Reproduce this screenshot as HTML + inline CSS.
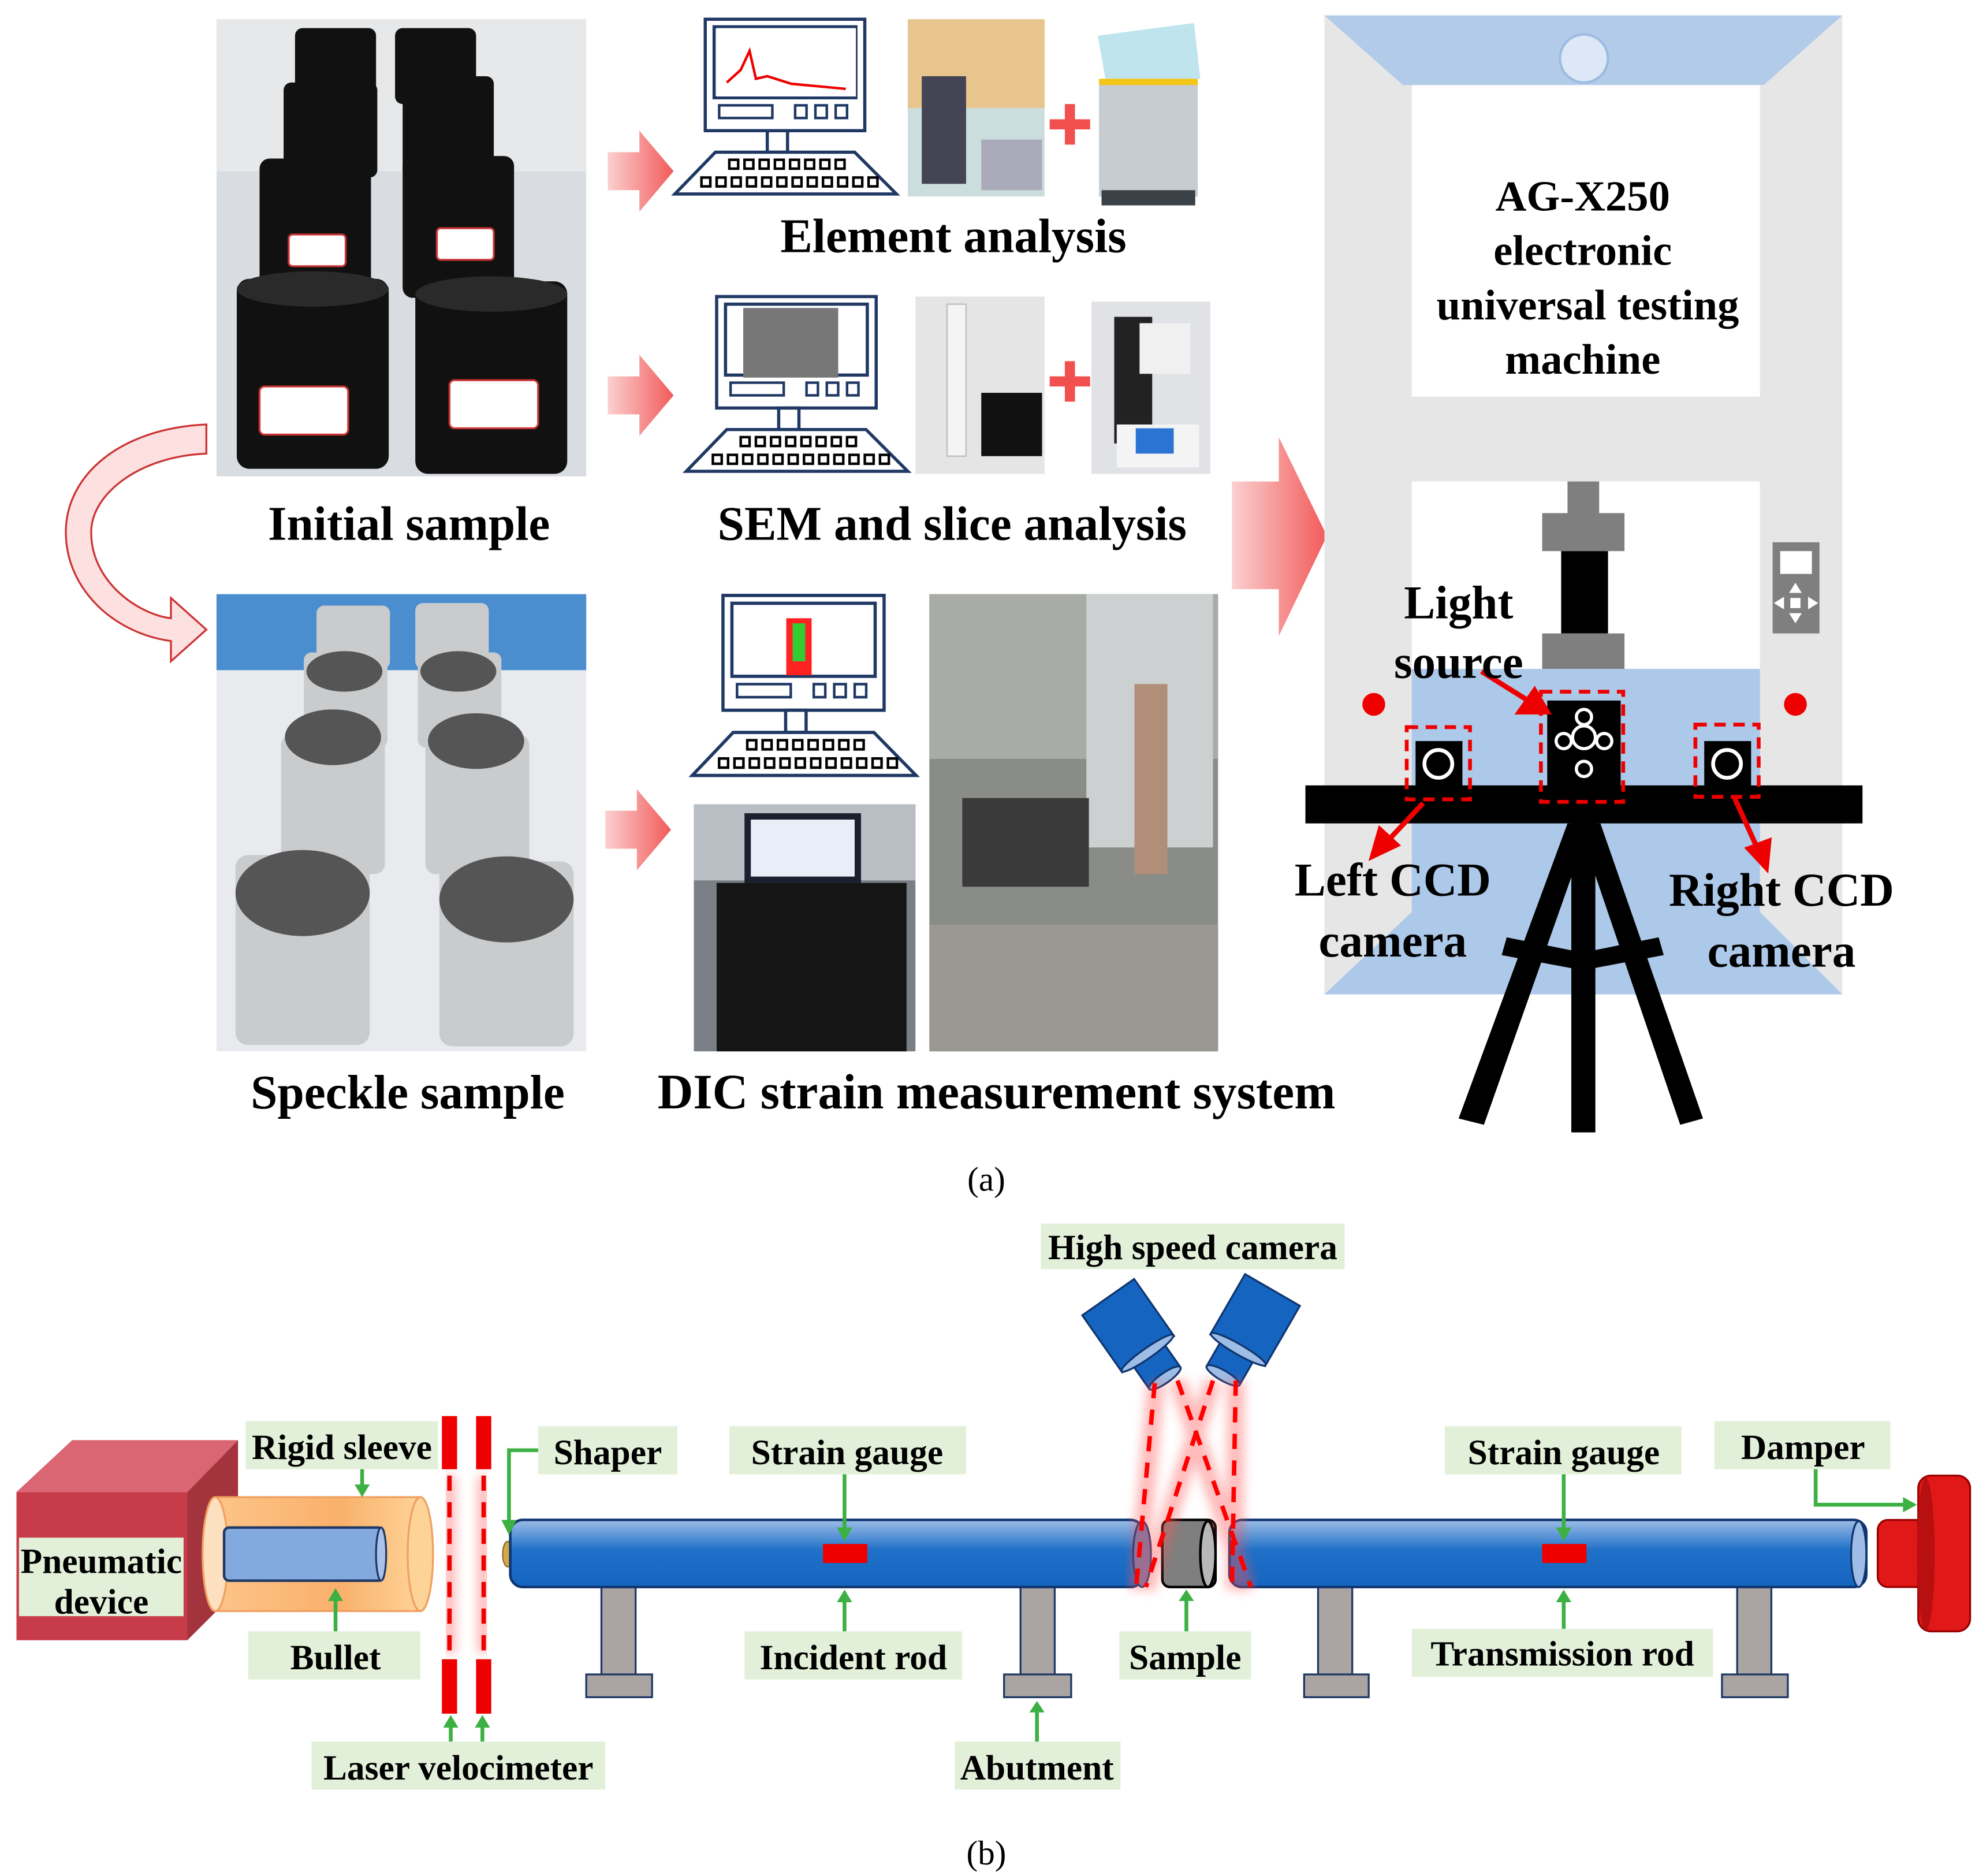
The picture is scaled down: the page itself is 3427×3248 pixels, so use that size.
<!DOCTYPE html>
<html><head><meta charset="utf-8"><style>
html,body{margin:0;padding:0;background:#fff}
svg{display:block}
text{font-family:"Liberation Serif",serif;font-weight:bold;fill:#000}
</style></head><body>
<svg width="3427" height="3248" viewBox="0 0 1563 1481" xmlns="http://www.w3.org/2000/svg">
<defs>
<linearGradient id="pk" x1="0" x2="1"><stop offset="0" stop-color="#fbd0d0"/><stop offset="1" stop-color="#f25a5a"/></linearGradient>
<linearGradient id="rod" x1="0" y1="0" x2="0" y2="1"><stop offset="0" stop-color="#9dbde6"/><stop offset="0.45" stop-color="#1f70c8"/><stop offset="1" stop-color="#1565c0"/></linearGradient>
<linearGradient id="sl" x1="0" x2="1"><stop offset="0" stop-color="#fdc48a"/><stop offset="0.6" stop-color="#f9b06a"/><stop offset="1" stop-color="#fed397"/></linearGradient>
<filter id="gl"><feGaussianBlur stdDeviation="4"/></filter>
<g id="comp">
 <rect x="0" y="0" width="126" height="88" fill="#fff" stroke="#1f3864" stroke-width="2.5"/>
 <rect x="7" y="6" width="112" height="56" fill="#fff" stroke="#1f3864" stroke-width="2.5"/>
 <rect x="11" y="68" width="42" height="10" fill="none" stroke="#1f3864" stroke-width="2"/>
 <rect x="71" y="68" width="9" height="10" fill="none" stroke="#1f3864" stroke-width="2"/>
 <rect x="87" y="68" width="9" height="10" fill="none" stroke="#1f3864" stroke-width="2"/>
 <rect x="103" y="68" width="9" height="10" fill="none" stroke="#1f3864" stroke-width="2"/>
 <rect x="49" y="88" width="16" height="17" fill="none" stroke="#1f3864" stroke-width="2.5"/>
 <polygon points="8,105 118,105 151,138 -24,138" fill="#fff" stroke="#1f3864" stroke-width="2.5"/>
 <g fill="none" stroke="#000" stroke-width="2">
  <rect x="19" y="111" width="7" height="7"/><rect x="31" y="111" width="7" height="7"/><rect x="43" y="111" width="7" height="7"/><rect x="55" y="111" width="7" height="7"/><rect x="67" y="111" width="7" height="7"/><rect x="79" y="111" width="7" height="7"/><rect x="91" y="111" width="7" height="7"/><rect x="103" y="111" width="7" height="7"/>
  <rect x="-3" y="125" width="7" height="7"/><rect x="9" y="125" width="7" height="7"/><rect x="21" y="125" width="7" height="7"/><rect x="33" y="125" width="7" height="7"/><rect x="45" y="125" width="7" height="7"/><rect x="57" y="125" width="7" height="7"/><rect x="69" y="125" width="7" height="7"/><rect x="81" y="125" width="7" height="7"/><rect x="93" y="125" width="7" height="7"/><rect x="105" y="125" width="7" height="7"/><rect x="117" y="125" width="7" height="7"/><rect x="129" y="125" width="7" height="7"/>
 </g>
</g>
</defs>

<!-- Initial sample photo -->
<rect x="171" y="15" width="292" height="361" fill="#d9dde2"/>
<rect x="171" y="15" width="292" height="120" fill="#e6e8ea"/>
<g fill="#111">
<rect x="233" y="22" width="64" height="60" rx="6"/><rect x="312" y="22" width="64" height="60" rx="6"/>
<rect x="224" y="65" width="74" height="75" rx="6"/><rect x="318" y="60" width="72" height="80" rx="6"/>
<rect x="205" y="125" width="88" height="105" rx="8"/><rect x="318" y="123" width="88" height="112" rx="8"/>
<rect x="187" y="220" width="120" height="150" rx="10"/><rect x="328" y="222" width="120" height="152" rx="10"/>
</g>
<g fill="#2a2a2a"><ellipse cx="247" cy="228" rx="60" ry="14"/><ellipse cx="388" cy="232" rx="60" ry="14"/></g>
<g fill="#fff" stroke="#c33" stroke-width="1.5"><rect x="205" y="305" width="70" height="38" rx="4"/><rect x="355" y="300" width="70" height="38" rx="4"/><rect x="228" y="185" width="45" height="25" rx="3"/><rect x="345" y="180" width="45" height="25" rx="3"/></g>

<!-- Speckle photo -->
<rect x="171" y="469" width="292" height="361" fill="#e8eaee"/>
<rect x="171" y="469" width="292" height="60" fill="#4a8ed0"/>
<g fill="#c9cbcd">
<rect x="250" y="478" width="58" height="50" rx="6"/><rect x="328" y="476" width="58" height="52" rx="6"/>
<rect x="240" y="515" width="66" height="75" rx="6"/><rect x="330" y="515" width="66" height="75" rx="6"/>
<rect x="222" y="580" width="82" height="110" rx="8"/><rect x="336" y="580" width="82" height="110" rx="8"/>
<rect x="186" y="675" width="106" height="150" rx="10"/><rect x="347" y="680" width="106" height="146" rx="10"/>
</g>
<g fill="#555"><ellipse cx="263" cy="582" rx="38" ry="22"/><ellipse cx="376" cy="585" rx="38" ry="22"/><ellipse cx="239" cy="705" rx="53" ry="34"/><ellipse cx="400" cy="710" rx="53" ry="34"/><ellipse cx="272" cy="530" rx="30" ry="16"/><ellipse cx="362" cy="530" rx="30" ry="16"/></g>

<!-- curved arrow -->
<path d="M163,335 L163,358 C110,360 72,390 72,420 C72,460 110,485 135,488 L135,472 L163,497 L135,522 L135,506 C90,500 52,465 52,420 C52,375 95,338 163,335 Z" fill="#fde0e0" stroke="#c33" stroke-width="1.5"/>

<text x="323" y="426" font-size="38" text-anchor="middle">Initial sample</text>
<text x="322" y="875" font-size="38" text-anchor="middle">Speckle sample</text>

<!-- pink arrows -->
<g fill="url(#pk)">
<polygon points="480,120 505,120 505,103 532,135 505,167 505,150 480,150"/>
<polygon points="480,297 505,297 505,280 532,312 505,344 505,327 480,327"/>
<polygon points="478,640 503,640 503,623 530,655 503,687 503,670 478,670"/>
<polygon points="973,380 1010,380 1010,345 1048,423 1010,502 1010,465 973,465"/>
</g>

<!-- computers -->
<use href="#comp" transform="translate(557,15)"/>
<use href="#comp" transform="translate(566,234)"/>
<use href="#comp" transform="translate(571,470) scale(1.01,1.03)"/>
<rect x="566" y="22" width="110" height="54" fill="#fff"/>
<polyline points="574,65 585,55 592,40 597,62 606,60 625,66 668,70" fill="none" stroke="#e00" stroke-width="2"/>
<rect x="587" y="243" width="75" height="55" fill="#777"/>
<rect x="621" y="488" width="20" height="45" fill="#f22"/><rect x="626" y="492" width="10" height="30" fill="#3c3"/>

<!-- photos row 1 -->
<rect x="717" y="15" width="108" height="140" fill="#cdd"/>
<rect x="717" y="15" width="108" height="70" fill="#e8c58c"/>
<rect x="728" y="60" width="35" height="85" fill="#445"/>
<rect x="775" y="110" width="48" height="40" fill="#aab"/>
<rect x="865" y="15" width="85" height="150" fill="#fff"/>
<polygon points="867,28 943,18 948,62 873,62" fill="#bfe4ee"/>
<rect x="868" y="65" width="78" height="90" fill="#c7ccd0"/><rect x="868" y="62" width="78" height="5" fill="#f5c518"/>
<rect x="870" y="150" width="74" height="12" fill="#3a4248"/>
<!-- row 2 -->
<rect x="723" y="234" width="102" height="140" fill="#e5e5e5"/>
<rect x="748" y="240" width="15" height="120" fill="#f4f4f4" stroke="#bbb"/>
<rect x="775" y="310" width="48" height="50" fill="#111"/>
<rect x="862" y="238" width="94" height="136" fill="#e0e2e6"/>
<rect x="880" y="250" width="30" height="100" fill="#222"/><rect x="900" y="255" width="40" height="40" fill="#f0f0f0"/>
<rect x="882" y="335" width="65" height="34" fill="#f4f4f4"/><rect x="897" y="338" width="30" height="20" fill="#2b74d4"/>
<g fill="#f24f4f"><rect x="829" y="94" width="32" height="8"/><rect x="841" y="82" width="8" height="32"/>
<rect x="829" y="297" width="32" height="8"/><rect x="841" y="285" width="8" height="32"/></g>
<text x="753" y="199" font-size="38" text-anchor="middle">Element analysis</text>
<text x="752" y="426" font-size="38" text-anchor="middle">SEM and slice analysis</text>

<!-- row 3 photos -->
<rect x="548" y="635" width="175" height="195" fill="#7a7f86"/>
<rect x="548" y="635" width="175" height="60" fill="#b8bec4"/>
<rect x="588" y="642" width="92" height="55" fill="#1b1f2e"/><rect x="593" y="647" width="82" height="45" fill="#e8eef7"/>
<rect x="566" y="697" width="150" height="133" fill="#151515"/>
<rect x="734" y="469" width="228" height="361" fill="#8a8c88"/>
<rect x="734" y="469" width="228" height="130" fill="#a9aba6"/>
<rect x="858" y="469" width="100" height="200" fill="#ccd0d0"/>
<rect x="896" y="540" width="26" height="150" fill="#b08e78"/>
<rect x="760" y="630" width="100" height="70" fill="#3a3a3a"/>
<rect x="734" y="730" width="228" height="100" fill="#9a9890"/>
<text x="787" y="875" font-size="39" text-anchor="middle">DIC strain measurement system</text>

<!-- machine -->
<rect x="1046" y="12" width="409" height="773" fill="#e6e6e6"/>
<polygon points="1046,12 1455,12 1393,67 1108,67" fill="#b1cbe9"/>
<circle cx="1251" cy="46" r="19" fill="#dce8f5" stroke="#9ebce0" stroke-width="2"/>
<rect x="1115" y="67" width="275" height="246" fill="#fff"/>
<rect x="1115" y="380" width="275" height="150" fill="#fff"/>
<rect x="1115" y="528" width="275" height="194" fill="#adc9ea"/>
<polygon points="1115,720 1390,720 1455,785 1046,785" fill="#adc9ea"/>
<text x="1250" y="166" font-size="34" text-anchor="middle">AG-X250</text>
<text x="1250" y="209" font-size="34" text-anchor="middle">electronic</text>
<text x="1254" y="252" font-size="34" text-anchor="middle">universal testing</text>
<text x="1250" y="295" font-size="34" text-anchor="middle">machine</text>
<rect x="1238" y="380" width="25" height="27" fill="#7f7f7f"/>
<rect x="1218" y="405" width="65" height="30" fill="#7f7f7f"/>
<rect x="1233" y="435" width="37" height="65" fill="#000"/>
<rect x="1218" y="500" width="65" height="28" fill="#7f7f7f"/>
<rect x="1400" y="428" width="37" height="72" fill="#7f7f7f"/>
<rect x="1406" y="435" width="25" height="18" fill="#fff"/>
<g fill="#fff"><polygon points="1418,460 1413,468 1423,468"/><polygon points="1418,492 1413,484 1423,484"/><polygon points="1401,476 1409,471 1409,481"/><polygon points="1436,476 1428,471 1428,481"/><rect x="1414" y="472" width="8" height="8"/></g>
<circle cx="1085" cy="556" r="9" fill="#e00"/><circle cx="1418" cy="556" r="9" fill="#e00"/>
<g fill="#000">
<rect x="1031" y="620" width="440" height="30"/>
<polygon points="1238,650 1256,650 1172,888 1152,883"/>
<polygon points="1246,650 1264,650 1345,883 1327,888"/>
<rect x="1241" y="650" width="19" height="244"/>
<polygon points="1190,740 1250,752 1250,766 1186,754"/>
<polygon points="1310,740 1250,752 1250,766 1314,754"/>
</g>
<rect x="1118" y="585" width="37" height="38" fill="#000"/><circle cx="1136" cy="603" r="11" fill="none" stroke="#fff" stroke-width="3"/>
<rect x="1346" y="585" width="37" height="38" fill="#000"/><circle cx="1364" cy="603" r="11" fill="none" stroke="#fff" stroke-width="3"/>
<rect x="1222" y="553" width="58" height="77" fill="#000"/>
<g fill="none" stroke="#fff" stroke-width="2.5"><circle cx="1251" cy="582" r="9"/><circle cx="1251" cy="566" r="6"/><circle cx="1251" cy="607" r="6"/><circle cx="1235" cy="585" r="6"/><circle cx="1267" cy="585" r="6"/></g>
<g fill="none" stroke="#e00" stroke-width="3" stroke-dasharray="9,6">
<rect x="1111" y="574" width="50" height="57"/><rect x="1339" y="572" width="50" height="57"/><rect x="1217" y="546" width="65" height="87"/>
</g>
<g stroke="#e00" stroke-width="4" fill="#e00">
<line x1="1170" y1="530" x2="1210" y2="555"/><polygon points="1222,562 1200,562 1212,545"/>
<line x1="1124" y1="634" x2="1093" y2="667"/><polygon points="1084,676 1090,655 1103,667"/>
<line x1="1370" y1="630" x2="1389" y2="672"/><polygon points="1395,685 1381,670 1397,664"/>
</g>
<text x="1152" y="488" font-size="37" text-anchor="middle">Light</text>
<text x="1152" y="535" font-size="37" text-anchor="middle">source</text>
<text x="1100" y="707" font-size="37" text-anchor="middle">Left CCD</text>
<text x="1100" y="755" font-size="37" text-anchor="middle">camera</text>
<text x="1407" y="715" font-size="37" text-anchor="middle">Right CCD</text>
<text x="1407" y="763" font-size="37" text-anchor="middle">camera</text>
<text x="779" y="940" font-size="27" text-anchor="middle" style="font-weight:normal">(a)</text>

<!-- ===== (b) ===== -->
<polygon points="13,1178 57,1137 188,1137 148,1178" fill="#d96672"/>
<polygon points="148,1178 188,1137 188,1255 148,1295" fill="#a3333c"/>
<rect x="13" y="1178" width="135" height="117" fill="#c83c4a"/>
<rect x="15" y="1214" width="130" height="62" fill="#e2f0d9"/>
<text x="80" y="1242" font-size="28" text-anchor="middle">Pneumatic</text>
<text x="80" y="1274" font-size="28" text-anchor="middle">device</text>
<rect x="170" y="1182" width="162" height="90" fill="url(#sl)" stroke="#f0a060" stroke-width="1.5"/>
<ellipse cx="170" cy="1227" rx="10" ry="45" fill="#fde0c0" stroke="#f0a060" stroke-width="1.5"/>
<ellipse cx="332" cy="1227" rx="10" ry="45" fill="#fed397" stroke="#f0a060" stroke-width="1.5"/>
<rect x="177" y="1206" width="126" height="42" fill="#82aade" stroke="#1f3864" stroke-width="2" rx="4"/>
<ellipse cx="301" cy="1227" rx="4" ry="21" fill="#a8c2ea" stroke="#1f3864" stroke-width="1.5"/>
<g fill="#e00"><rect x="349" y="1118" width="12" height="42"/><rect x="376" y="1118" width="12" height="42"/><rect x="349" y="1310" width="12" height="43"/><rect x="376" y="1310" width="12" height="43"/></g>
<g stroke="#f66" stroke-width="10" opacity="0.45" filter="url(#gl)"><line x1="355" y1="1165" x2="355" y2="1305"/><line x1="382" y1="1165" x2="382" y2="1305"/></g>
<g stroke="#e00" stroke-width="3.5" stroke-dasharray="12,9"><line x1="355" y1="1165" x2="355" y2="1305"/><line x1="382" y1="1165" x2="382" y2="1305"/></g>
<ellipse cx="401" cy="1227" rx="4" ry="10" fill="#d4a84c" stroke="#8a6a20"/>
<g fill="#aaa5a3" stroke="#1f3864" stroke-width="1.5">
<rect x="475" y="1253" width="27" height="70"/><rect x="463" y="1322" width="52" height="18"/>
<rect x="806" y="1253" width="27" height="70"/><rect x="793" y="1322" width="53" height="18"/>
<rect x="1041" y="1253" width="27" height="70"/><rect x="1030" y="1322" width="51" height="18"/>
<rect x="1372" y="1253" width="27" height="70"/><rect x="1360" y="1322" width="52" height="18"/>
</g>
<rect x="403" y="1200" width="500" height="53" rx="10" fill="url(#rod)" stroke="#0f3570" stroke-width="2"/>
<ellipse cx="902" cy="1227" rx="7" ry="26" fill="#5a80b8" stroke="#0f3570" stroke-width="1.5"/>
<rect x="971" y="1200" width="503" height="53" rx="10" fill="url(#rod)" stroke="#0f3570" stroke-width="2"/>
<ellipse cx="1468" cy="1227" rx="6" ry="26" fill="#9dbde6" stroke="#0f3570" stroke-width="1.5"/>
<rect x="918" y="1200" width="42" height="53" rx="6" fill="#7f7f7f" stroke="#000" stroke-width="2"/>
<ellipse cx="954" cy="1227" rx="6" ry="26" fill="#b8b8b8" stroke="#000" stroke-width="2"/>
<rect x="650" y="1219" width="35" height="15" fill="#e00"/>
<rect x="1218" y="1219" width="35" height="15" fill="#e00"/>
<rect x="1483" y="1200" width="40" height="53" rx="8" fill="#e01818" stroke="#900" stroke-width="1.5"/>
<rect x="1515" y="1165" width="41" height="123" rx="10" fill="#e01818" stroke="#900" stroke-width="1.5"/>
<ellipse cx="1521" cy="1227" rx="7" ry="60" fill="#b81010"/>
<!-- cameras -->
<g stroke="#0f3570" stroke-width="1.5">
<g transform="translate(920,1088) rotate(-35)"><rect x="-25" y="-78" width="50" height="55" fill="#1565c0"/><rect x="-15" y="-25" width="30" height="25" fill="#1565c0"/><ellipse cx="0" cy="0" rx="15" ry="4" fill="#9dbde6"/><ellipse cx="0" cy="-24" rx="25" ry="4" fill="#9dbde6"/></g>
<g transform="translate(966,1086) rotate(30)"><rect x="-25" y="-78" width="50" height="55" fill="#1565c0"/><rect x="-15" y="-25" width="30" height="25" fill="#1565c0"/><ellipse cx="0" cy="0" rx="15" ry="4" fill="#9dbde6"/><ellipse cx="0" cy="-24" rx="25" ry="4" fill="#9dbde6"/></g>
</g>
<g stroke="#f55" stroke-width="14" opacity="0.4" filter="url(#gl)" fill="none">
<line x1="913" y1="1092" x2="898" y2="1255"/><line x1="930" y1="1090" x2="985" y2="1255"/><line x1="958" y1="1090" x2="905" y2="1255"/><line x1="976" y1="1090" x2="975" y2="1255"/>
</g>
<g stroke="#f00" stroke-width="3.5" stroke-dasharray="12,9" fill="none">
<line x1="912" y1="1092" x2="897" y2="1257"/><line x1="930" y1="1090" x2="988" y2="1253"/><line x1="958" y1="1090" x2="905" y2="1253"/><line x1="976" y1="1090" x2="973" y2="1253"/>
</g>
<!-- labels -->
<g fill="#e2f0d9">
<rect x="194" y="1122" width="152" height="38"/><rect x="425" y="1126" width="110" height="38"/><rect x="576" y="1126" width="187" height="38"/>
<rect x="822" y="966" width="240" height="36"/><rect x="1141" y="1126" width="187" height="38"/><rect x="1354" y="1122" width="139" height="38"/>
<rect x="196" y="1288" width="136" height="38"/><rect x="588" y="1288" width="172" height="38"/><rect x="884" y="1288" width="104" height="38"/>
<rect x="1115" y="1286" width="238" height="38"/><rect x="246" y="1375" width="232" height="38"/><rect x="754" y="1375" width="131" height="38"/>
</g>
<g font-size="28" text-anchor="middle">
<text x="270" y="1152">Rigid sleeve</text><text x="480" y="1156">Shaper</text><text x="669" y="1156">Strain gauge</text>
<text x="942" y="994">High speed camera</text><text x="1235" y="1156">Strain gauge</text><text x="1424" y="1152">Damper</text>
<text x="265" y="1318">Bullet</text><text x="674" y="1318">Incident rod</text><text x="936" y="1318">Sample</text>
<text x="1234" y="1315">Transmission rod</text><text x="362" y="1405">Laser velocimeter</text><text x="819" y="1405">Abutment</text>
</g>
<g stroke="#3cb043" stroke-width="3" fill="none">
<line x1="286" y1="1160" x2="286" y2="1175"/><line x1="265" y1="1288" x2="265" y2="1262"/>
<polyline points="425,1145 402,1145 402,1205"/>
<line x1="667" y1="1164" x2="667" y2="1210"/><line x1="667" y1="1288" x2="667" y2="1262"/>
<line x1="937" y1="1288" x2="937" y2="1262"/><line x1="1235" y1="1164" x2="1235" y2="1210"/><line x1="1235" y1="1286" x2="1235" y2="1262"/>
<polyline points="1434,1160 1434,1188 1505,1188"/>
<line x1="819" y1="1375" x2="819" y2="1350"/><line x1="356" y1="1375" x2="356" y2="1362"/><line x1="381" y1="1375" x2="381" y2="1362"/>
</g>
<g fill="#3cb043">
<polygon points="280,1172 292,1172 286,1182"/><polygon points="259,1264 271,1264 265,1254"/>
<polygon points="396,1200 408,1200 402,1212"/>
<polygon points="661,1206 673,1206 667,1217"/><polygon points="661,1265 673,1265 667,1255"/>
<polygon points="931,1264 943,1264 937,1255"/><polygon points="1229,1206 1241,1206 1235,1217"/><polygon points="1229,1265 1241,1265 1235,1255"/>
<polygon points="1503,1182 1503,1194 1514,1188"/>
<polygon points="813,1352 825,1352 819,1343"/><polygon points="350,1364 362,1364 356,1354"/><polygon points="375,1364 387,1364 381,1354"/>
</g>
<text x="779" y="1472" font-size="27" text-anchor="middle" style="font-weight:normal">(b)</text>
</svg>
</body></html>
